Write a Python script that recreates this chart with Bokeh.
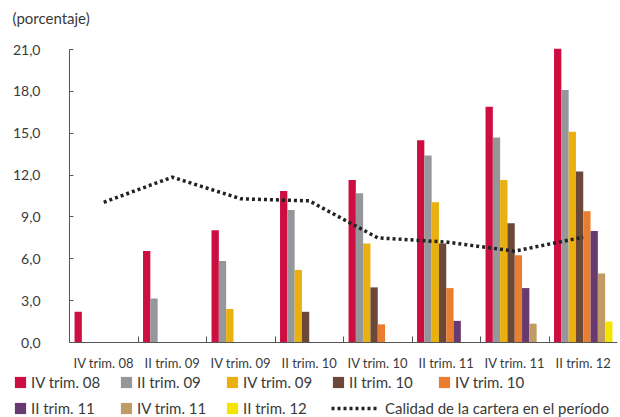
import numpy as np
from bokeh.plotting import figure
from bokeh.models import (Range1d, LinearAxis, FixedTicker, ColumnDataSource,
                          Legend, LegendItem, Label)
from bokeh.transform import dodge
from bokeh.embed import file_html
from bokeh.resources import INLINE

nan = np.nan
categories = ["IV trim. 08", "II trim. 09", "IV trim. 09", "II trim. 10",
              "IV trim. 10", "II trim. 11", "IV trim. 11", "II trim. 12"]
series_names = categories
iv_trim_08 = [2.2, 6.55, 8.05, 10.85, 11.65, 14.5, 16.9, 21.05]
ii_trim_09 = [nan, 3.15, 5.85, 9.5, 10.7, 13.4, 14.7, 18.1]
iv_trim_09 = [nan, nan, 2.4, 5.2, 7.1, 10.05, 11.65, 15.1]
ii_trim_10 = [nan, nan, nan, 2.2, 3.95, 7.1, 8.55, 12.25]
iv_trim_10 = [nan, nan, nan, nan, 1.3, 3.9, 6.25, 9.4]
ii_trim_11 = [nan, nan, nan, nan, nan, 1.55, 3.9, 8.0]
iv_trim_11 = [nan, nan, nan, nan, nan, nan, 1.35, 4.95]
ii_trim_12 = [nan, nan, nan, nan, nan, nan, nan, 1.5]
calidad = [10.05, 11.85, 10.3, 10.15, 7.5, 7.2, 6.55, 7.55]
line_name = "Calidad de la cartera en el período"
y_title = "(porcentaje)"
y_ticks = [0, 3, 6, 9, 12, 15, 18, 21]
y_labels = {t: f"{t},0" for t in y_ticks}

colors = ["#CD0E41", "#96979A", "#EAB00F", "#6B4838", "#E97E31", "#673A70", "#BF9C66", "#F4E500"]
series = [iv_trim_08, ii_trim_09, iv_trim_09, ii_trim_10, iv_trim_10, ii_trim_11, iv_trim_11, ii_trim_12]
keys = [f"s{i}" for i in range(len(series))]

n = len(categories)
data = {"cat": categories, "pos": np.arange(n) + 0.5, "calidad": calidad}
for k, s in zip(keys, series):
    data[k] = np.array(s, dtype=float)
src = ColumnDataSource(data)

FONT = "Lato"
TXT = "#3a3a3a"
AX = "#555555"

# layout: one category = 68.5 px, one y unit = 293/21 px; frame fills the canvas
W, H = 620, 417
cat_px = 68.5
y_px = 293 / 21
x_left_px, y_zero_px = 69, 342
x_range = Range1d(-x_left_px / cat_px, n + (W - x_left_px - n * cat_px) / cat_px)
y_range = Range1d(-(H - y_zero_px) / y_px, y_zero_px / y_px)

p = figure(width=W, height=H, x_range=x_range, y_range=y_range,
           x_axis_type=None, y_axis_type=None,
           output_backend="svg", toolbar_location=None,
           min_border_left=0, min_border_right=0, min_border_top=0, min_border_bottom=0)
p.outline_line_color = None
p.grid.grid_line_color = None

ya = LinearAxis(fixed_location=0, bounds=(0, 21),
                ticker=FixedTicker(ticks=y_ticks), major_label_overrides=y_labels,
                major_tick_in=4, major_tick_out=0, minor_tick_line_color=None,
                axis_line_color=AX, major_tick_line_color=AX,
                major_label_text_font=FONT, major_label_text_font_size="14px",
                major_label_text_color=TXT, major_label_standoff=29)
p.add_layout(ya, "left")

xa = LinearAxis(fixed_location=0, bounds=(0, n),
                ticker=FixedTicker(ticks=[i + 0.5 for i in range(n)],
                                   minor_ticks=list(range(1, n))),
                major_label_overrides={i + 0.5: c for i, c in enumerate(categories)},
                major_tick_line_color=None,
                minor_tick_in=6, minor_tick_out=0, minor_tick_line_color=AX,
                axis_line_color=AX,
                major_label_text_font=FONT, major_label_text_font_size="13px",
                major_label_text_color=TXT, major_label_standoff=6)
p.add_layout(xa, "below")

p.add_layout(Label(x=12, y=H - 17, x_units="screen", y_units="screen", text=y_title,
                   text_font=FONT, text_font_size="15px", text_color=TXT,
                   text_baseline="middle"))

bw = 0.1066
renderers = []
for i, k in enumerate(keys):
    r = p.vbar(x=dodge("pos", (i - 3.5) * bw), top=k, width=bw,
               source=src, fill_color=colors[i], line_color=None)
    renderers.append(r)

lr = p.line(x="pos", y="calidad", source=src, line_color="#222222",
            line_width=3.5, line_dash="3 3")


def mk_legend(items, loc, glyph_w=14, standoff=4):
    return Legend(items=items, location=loc, orientation="horizontal",
                  glyph_width=glyph_w, glyph_height=14, label_standoff=standoff,
                  label_width=74, label_height=14, spacing=14, padding=0, margin=0,
                  border_line_color=None, background_fill_alpha=0,
                  label_text_font=FONT, label_text_font_size="15px",
                  label_text_color=TXT)


row1 = [LegendItem(label=series_names[i], renderers=[renderers[i]]) for i in range(5)]
row2 = [LegendItem(label=series_names[i], renderers=[renderers[i]]) for i in range(5, 8)]
p.add_layout(mk_legend(row1, (13, 26)))
p.add_layout(mk_legend(row2, (13, 0)))
p.add_layout(mk_legend([LegendItem(label=line_name, renderers=[lr])], (331, 0),
                       glyph_w=47, standoff=7))

open("out.html", "w").write(file_html(p, INLINE))
